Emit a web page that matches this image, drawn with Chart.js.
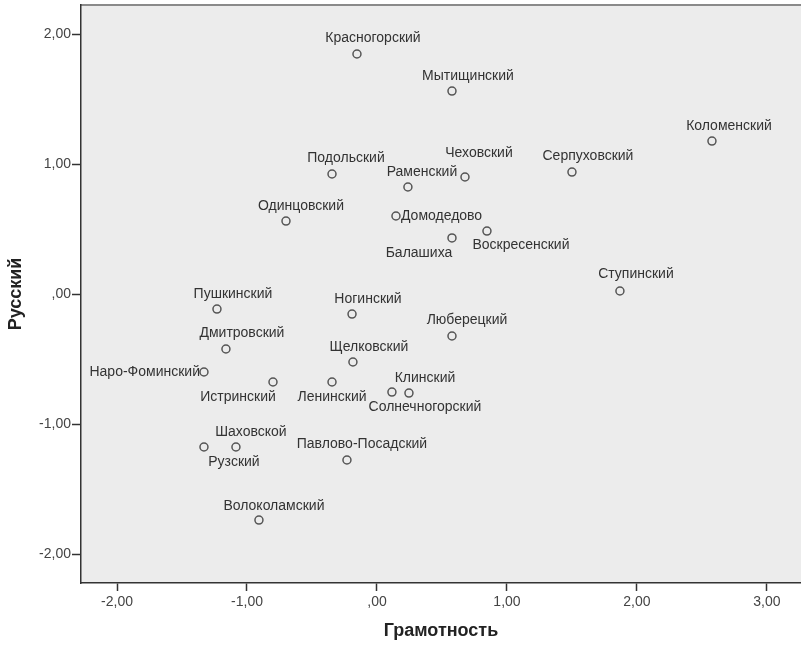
<!DOCTYPE html>
<html>
<head>
<meta charset="utf-8">
<script src="https://cdn.jsdelivr.net/npm/chart.js@4.4.1/dist/chart.umd.min.js"></script>
<style>
  html, body { margin: 0; padding: 0; background: #fff; }
  #wrap { width: 801px; height: 646px; }
</style>
</head>
<body>
<div id="wrap"><canvas id="scatter" width="801" height="646"></canvas></div>
<script>
// Districts and their scores
const districts = [
  'Красногорский', 'Мытищинский', 'Коломенский', 'Подольский', 'Раменский',
  'Чеховский', 'Серпуховский', 'Одинцовский', 'Домодедово', 'Балашиха',
  'Воскресенский', 'Ступинский', 'Пушкинский', 'Ногинский', 'Люберецкий',
  'Дмитровский', 'Щелковский', 'Наро-Фоминский', 'Истринский', 'Ленинский',
  'Клинский', 'Солнечногорский', 'Шаховской', 'Рузский', 'Павлово-Посадский',
  'Волоколамский'
];
const literacy = [
  -0.154, 0.577, 2.577, -0.346, 0.238,
  0.677, 1.500, -0.700, 0.146, 0.577,
  0.846, 1.869, -1.231, -0.192, 0.577,
  -1.162, -0.185, -1.331, -0.800, -0.346,
  0.246, 0.115, -1.085, -1.331, -0.231,
  -0.908
];
const russian = [
  1.850, 1.565, 1.180, 0.927, 0.827,
  0.904, 0.942, 0.565, 0.604, 0.435,
  0.488, 0.027, -0.112, -0.150, -0.319,
  -0.419, -0.519, -0.596, -0.673, -0.673,
  -0.758, -0.750, -1.173, -1.173, -1.273,
  -1.735
];
const xTicks = [-2, -1, 0, 1, 2, 3];
const yTicks = [-2, -1, 0, 1, 2];

// label placement relative to the marker: [dx, dy, align]
const labelPlacement = [
  [16, -16, 'center'], [16, -15, 'center'], [17, -15, 'center'], [14, -16, 'center'], [14, -15, 'center'],
  [14, -24, 'center'], [16, -16, 'center'], [15, -15, 'center'], [5, 0, 'left'], [-33, 15, 'center'],
  [34, 14, 'center'], [16, -17, 'center'], [16, -15, 'center'], [16, -15, 'center'], [15, -16, 'center'],
  [16, -16, 'center'], [16, -15, 'center'], [-4, 0, 'right'], [-35, 15, 'center'], [0, 15, 'center'],
  [16, -15, 'center'], [33, 15, 'center'], [15, -15, 'center'], [30, 15, 'center'], [15, -16, 'center'],
  [15, -14, 'center']
];

const fontFamily = "'Liberation Sans', Arial, sans-serif";

const fmt = v => (v === 0 ? ',00' : v.toFixed(2).replace('.', ','));

// fixed box sizes so the plot area lands where the original has it
function fixBox(s, size) {
  if (s.isHorizontal()) s.height = size; else s.width = size;
  s.paddingTop = 0;
  s.paddingBottom = 0;
  s.paddingLeft = 0;
  s.paddingRight = 0;
}

const plotBackground = {
  id: 'plotBackground',
  beforeDraw(chart) {
    const { ctx, chartArea: a } = chart;
    ctx.save();
    ctx.fillStyle = '#ececec';
    ctx.fillRect(a.left, a.top, a.right - a.left, a.bottom - a.top);
    ctx.strokeStyle = '#8a8a8a';
    ctx.lineWidth = 2;
    ctx.beginPath();
    ctx.moveTo(a.left, a.top);
    ctx.lineTo(a.right, a.top);
    ctx.stroke();
    ctx.restore();
  }
};

const pointLabels = {
  id: 'pointLabels',
  afterDatasetsDraw(chart) {
    const { ctx } = chart;
    const meta = chart.getDatasetMeta(0);
    ctx.save();
    ctx.font = '14px ' + fontFamily;
    ctx.fillStyle = '#333';
    ctx.textBaseline = 'middle';
    meta.data.forEach((pt, i) => {
      const [dx, dy, align] = labelPlacement[i];
      ctx.textAlign = align;
      ctx.fillText(districts[i], pt.x + dx, pt.y + dy);
    });
    ctx.restore();
  }
};

new Chart(document.getElementById('scatter'), {
  type: 'scatter',
  data: {
    datasets: [{
      data: districts.map((d, i) => ({ x: literacy[i], y: russian[i] })),
      pointRadius: 4,
      pointHoverRadius: 4,
      pointBackgroundColor: 'rgba(0,0,0,0)',
      pointBorderColor: '#555',
      pointBorderWidth: 1.5,
    }]
  },
  options: {
    responsive: false,
    animation: false,
    layout: { autoPadding: false, padding: { top: 5, right: 0, left: 0, bottom: 0 } },
    plugins: {
      legend: { display: false },
      tooltip: { enabled: false }
    },
    scales: {
      x: {
        type: 'linear',
        min: -2.277,
        max: 3.262,
        afterFit: s => fixBox(s, 63),
        afterBuildTicks: s => { s.ticks = xTicks.map(v => ({ value: v })); },
        grid: { drawOnChartArea: false, drawTicks: true, tickLength: 8, tickColor: '#333', tickWidth: 1.5 },
        border: { display: true, color: '#333', width: 1.5 },
        ticks: {
          padding: 3,
          color: '#444',
          font: { size: 14, family: fontFamily },
          callback: fmt
        },
        title: {
          display: true,
          text: 'Грамотность',
          color: '#222',
          font: { size: 18, weight: 'bold', family: fontFamily },
          padding: { top: 0, bottom: 4 }
        }
      },
      y: {
        type: 'linear',
        min: -2.219,
        max: 2.227,
        afterFit: s => fixBox(s, 81),
        afterBuildTicks: s => { s.ticks = yTicks.map(v => ({ value: v })); },
        grid: { drawOnChartArea: false, drawTicks: true, tickLength: 9, tickColor: '#333', tickWidth: 1.5 },
        border: { display: true, color: '#333', width: 1.5 },
        ticks: {
          padding: 1,
          color: '#444',
          font: { size: 14, family: fontFamily },
          callback: fmt
        },
        title: {
          display: true,
          text: 'Русский',
          color: '#222',
          font: { size: 18, weight: 'bold', family: fontFamily },
          padding: { top: 5, bottom: 0 }
        }
      }
    }
  },
  plugins: [plotBackground, pointLabels]
});
</script>
</body>
</html>
